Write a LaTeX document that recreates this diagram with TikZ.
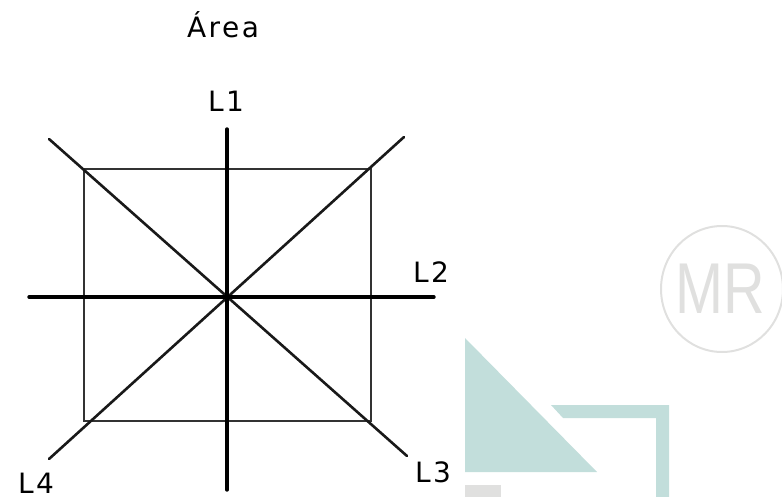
\documentclass[tikz,border=0pt]{standalone}
\usepackage{fontspec}
\setmainfont[LetterSpace=9]{DejaVu Sans}
\newfontfamily\markfont{Liberation Sans}
\usepackage{xcolor}
\definecolor{mint}{HTML}{C2DEDB}
\definecolor{markgray}{HTML}{E0E0DF}

\begin{document}
\begin{tikzpicture}[
    x=1pt, y=-1pt,
    tag/.style={inner sep=0pt, font=\fontsize{28}{28}\selectfont},
    axis/.style={line width=3.4pt, black, line cap=round},
    diag/.style={line width=2.6pt, black!90, line cap=round},
    side/.style={line width=2pt, black!80},
]
    \useasboundingbox (0,0) rectangle (782,497);

    % backdrop shapes
    \fill[mint] (465,338) -- (465,472) -- (597,472) -- cycle;
    \fill[mint] (551,405) -- (669,405) -- (669,497) -- (656,497) -- (656,418) -- (563,418) -- cycle;
    \fill[markgray] (465,485) rectangle (501,497);
    \draw[markgray, line width=2pt] (722,289) ellipse [x radius=61, y radius=63];
    \node[inner sep=0pt, text=markgray, xscale=0.8, font=\markfont\fontsize{72}{72}\selectfont] (mark) at (720.5,289) {MR};

    \coordinate (tl) at (84,169);
    \coordinate (tr) at (371,169);
    \coordinate (br) at (371,421);
    \coordinate (bl) at (84,421);
    \coordinate (top) at (227,129);
    \coordinate (bottom) at (227,490);
    \coordinate (left) at (29,297);
    \coordinate (right) at (434,297);
    \coordinate (nw) at (49,139);
    \coordinate (se) at (407,456);
    \coordinate (ne) at (404,137);
    \coordinate (sw) at (49,459);

    \draw[side] (tl) -- (tr) -- (br) -- (bl) -- cycle;
    \draw[diag] (nw) -- (se);
    \draw[diag] (ne) -- (sw);
    \draw[axis] (top) -- (bottom);
    \draw[axis] (left) -- (right);

    \node[tag] (title) at (223,25) {Área};
    \node[tag] (l1) at (226,101) {L1};
    \node[tag] (l2) at (431,272) {L2};
    \node[tag] (l3) at (433,472) {L3};
    \node[tag] (l4) at (36,483) {L4};
\end{tikzpicture}
\end{document}
